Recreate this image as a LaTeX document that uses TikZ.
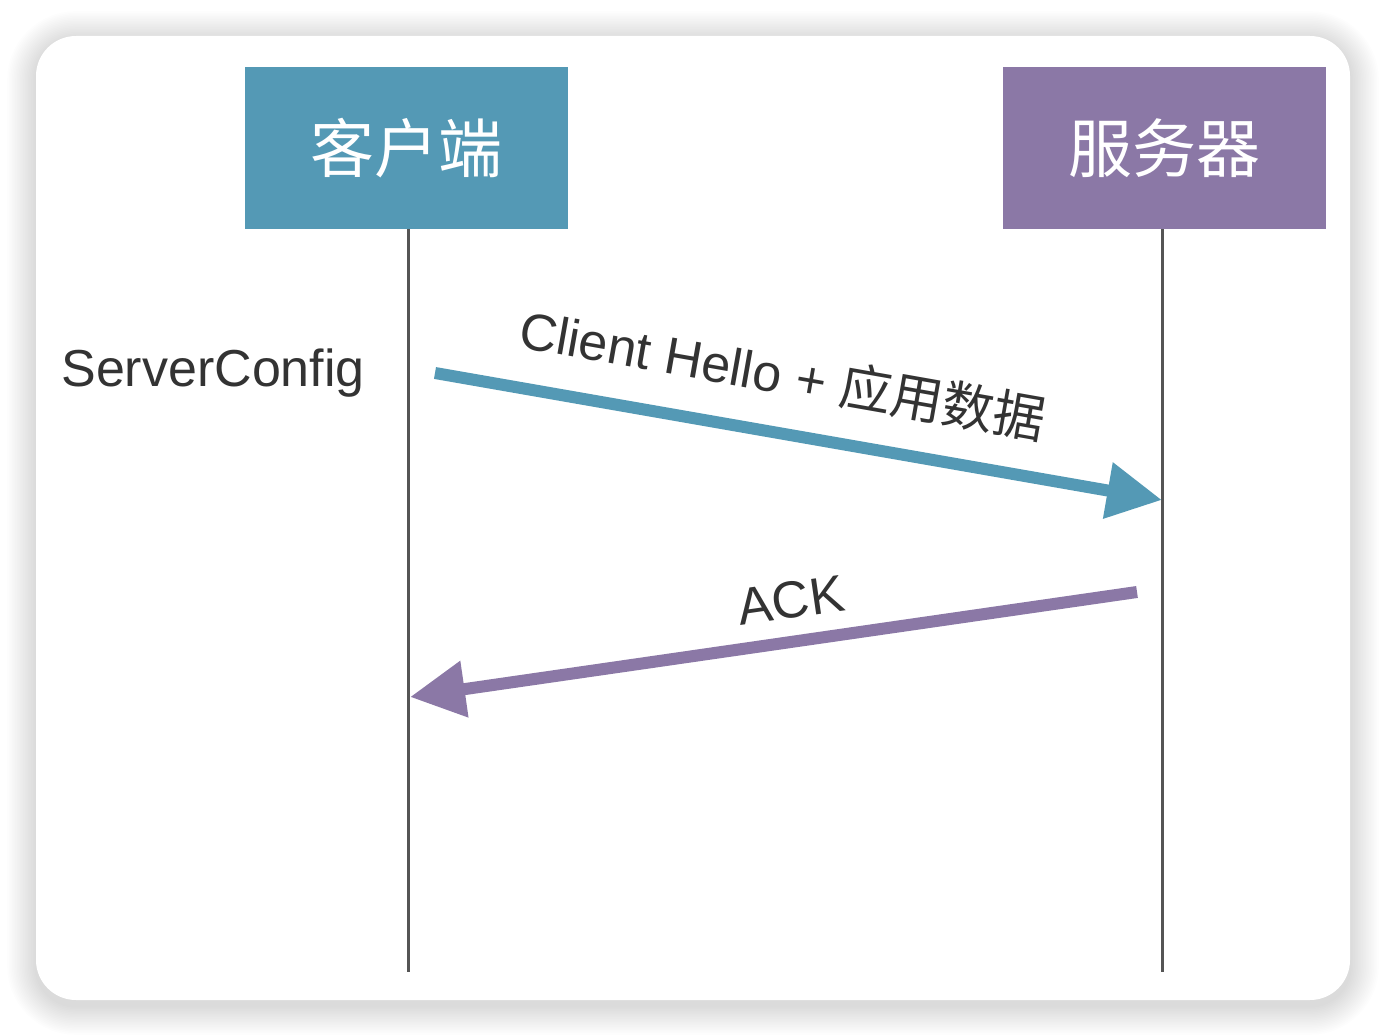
\documentclass[tikz,border=0pt]{standalone}
\usepackage{fontspec}
\setmainfont{Liberation Sans}
\newfontfamily\cjk{Noto Sans CJK SC}
\usetikzlibrary{arrows.meta}
\definecolor{cblue}{HTML}{5499B5}
\definecolor{cpurple}{HTML}{8B78A6}
\definecolor{lifegray}{HTML}{555555}
\begin{document}
\begin{tikzpicture}[x=0.5pt,y=-0.5pt,
  header/.style={minimum width=161.5pt,minimum height=81pt,inner sep=0pt,text=white,font=\cjk\fontsize{32}{36}\selectfont},
  lifeline/.style={draw=lifegray,line width=1.5pt},
  msg/.style={line width=6pt,-{Triangle[length=27.5pt,width=27pt]}},
  lbl/.style={font=\fontsize{26}{30}\selectfont,text=black!80,inner sep=0pt}]
\useasboundingbox (0,0) rectangle (1386,1036);
\fill[white] (0,0) rectangle (1386,1036);
% shadow
\foreach \i in {1,...,18}{
  \fill[black,opacity=0.007,rounded corners=20pt+\i*0.8pt] (36-\i*1.6,40-\i*1.6) rectangle (1350+\i*1.6,1006+\i*1.6);
}
\fill[white,rounded corners=20pt] (36,36) rectangle (1350,1000);
% headers
\node[header,fill=cblue] (client) at (406.5,148) {客户端};
\node[header,fill=cpurple] (server) at (1164,148) {服务器};
% lifelines
\coordinate (cend) at (408,972);
\coordinate (send) at (1162,972);
\draw[lifeline] (client.south -| cend) -- (cend);
\draw[lifeline] (server.south -| send) -- (send);
% messages
\coordinate (m1s) at (435,373);
\coordinate (m1e) at (1162,500);
\coordinate (m2s) at (1137,592);
\coordinate (m2e) at (410,697);
\draw[msg,cblue] (m1s) -- (m1e);
\draw[msg,cpurple] (m2s) -- (m2e);
% labels
\node[lbl,rotate=-10] (l1) at (783,374) {Client Hello + {\cjk 应用数据}};
\node[lbl,rotate=8.2] (l2) at (791,600) {ACK};
\node[lbl,anchor=west] (cfg) at (61,373) {ServerConfig};
\end{tikzpicture}
\end{document}
